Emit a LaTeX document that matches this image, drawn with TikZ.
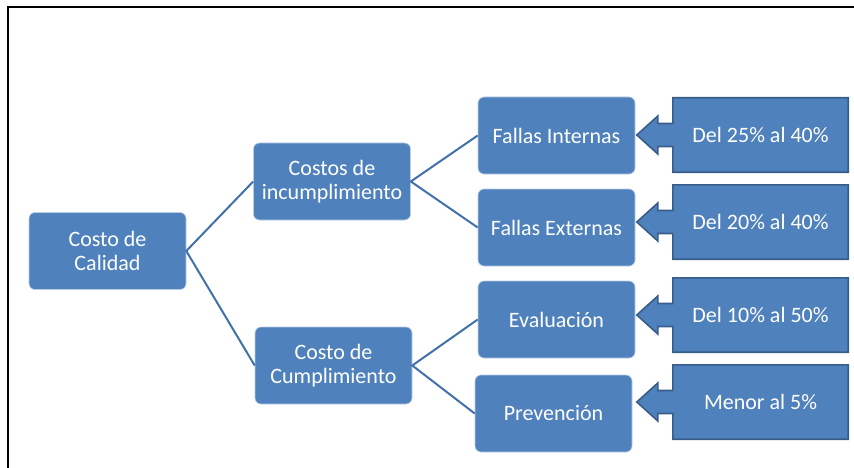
\documentclass[tikz,border=0pt]{standalone}
\usepackage{fontspec}
\setmainfont{Carlito}
\usetikzlibrary{backgrounds}
\definecolor{boxblue}{HTML}{4F81BD}
\definecolor{edgeblue}{HTML}{385D8A}
\definecolor{lineblue}{HTML}{4270AA}
\tikzset{
  rbox/.style={rectangle, rounded corners=6pt, fill=boxblue, draw=white!60!boxblue, line width=0.6pt,
    minimum width=157pt, minimum height=77pt, text=white, align=center,
    font=\fontsize{22}{24}\selectfont, inner sep=0pt},
  cbox/.style={rectangle, minimum width=175pt, minimum height=74pt, text=white, align=center,
    font=\fontsize{22}{24}\selectfont, inner sep=0pt},
  cshape/.style={fill=boxblue, draw=edgeblue, line width=1.6pt, line join=miter},
  conn/.style={draw=lineblue, line width=2pt},
  frameline/.style={draw=black, line width=1.6pt}
}
\newcommand{\callout}[1]{%
  \begin{scope}[on background layer]
  \path[cshape] (#1.north west) -- (#1.north east) -- (#1.south east) -- (#1.south west)
    -- ([yshift=-11.5pt]#1.west) -- ([xshift=-15pt,yshift=-11.5pt]#1.west)
    -- ([xshift=-15pt,yshift=-19pt]#1.west) -- ([xshift=-36pt]#1.west)
    -- ([xshift=-15pt,yshift=19pt]#1.west) -- ([xshift=-15pt,yshift=11.5pt]#1.west)
    -- ([yshift=11.5pt]#1.west) -- cycle;
  \end{scope}}
\begin{document}
\begin{tikzpicture}[x=1pt,y=-1pt]
\useasboundingbox (0,0) rectangle (854,468);
\coordinate (ftl) at (8,7);
\coordinate (ftr) at (856,7);
\coordinate (fbl) at (8,470);
\draw[frameline] (fbl) -- (ftl) -- (ftr);

\node[rbox] (cal) at (107.5,251) {Costo de\\Calidad};
\node[rbox] (inc) at (332,181.5) {Costos de\\incumplimiento};
\node[rbox] (cum) at (333.5,365.5) {Costo de\\Cumplimiento};
\node[rbox] (fi) at (556.5,135.5) {Fallas Internas};
\node[rbox] (fe) at (556.5,227.5) {Fallas Externas};
\node[rbox] (ev) at (556.5,319.5) {Evaluación};
\node[rbox] (pr) at (553.5,413.5) {Prevención};

\draw[conn] (inc.west) -- (cal.east) -- (cum.west);
\draw[conn] (fi.west) -- (inc.east) -- (fe.west);
\draw[conn] (ev.west) -- (cum.east) -- (pr.west);

\node[cbox] (c1) at (760.5,135) {Del 25\% al 40\%};
\node[cbox] (c2) at (760.5,222) {Del 20\% al 40\%};
\node[cbox] (c3) at (760.5,315) {Del 10\% al 50\%};
\node[cbox] (c4) at (760.5,402) {Menor al 5\%};
\callout{c1}
\callout{c2}
\callout{c3}
\callout{c4}
\end{tikzpicture}
\end{document}
